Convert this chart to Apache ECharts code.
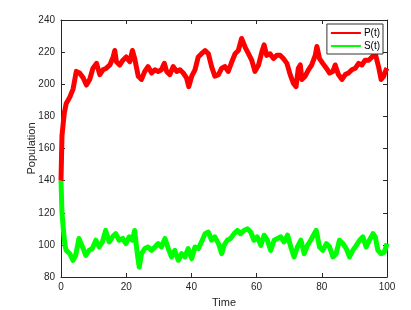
<!DOCTYPE html>
<html><head><meta charset="utf-8">
<script src="https://cdn.jsdelivr.net/npm/echarts@6/dist/echarts.min.js"></script>
<style>html,body{margin:0;padding:0;background:#fff}#c{width:411px;height:310px}</style>
</head><body><div id="c"></div>
<script>
const timeP = [0,0.3,0.7,1.0,1.6,2.7,3.7,4.7,5.7,6.8,7.8,8.8,9.8,10.9,11.4,11.9,12.9,13.9,15,16,16.5,17,18,19,20,21.1,21.9,22.6,23.7,24.7,25.7,26.7,27.8,28.8,29.8,30.8,31.7,32.4,33.4,34.4,35.5,36.5,37.5,38.5,39.2,40.1,41.1,42.1,43.1,44.2,45.2,46.2,47.2,48.3,49.3,50.3,51.3,52.4,53.4,54.4,55.4,56.5,57.5,58.5,59.5,60.6,61.6,62.3,63.1,64.1,65.2,66.2,67.2,68.2,69.3,70.3,71.3,72.1,72.8,73.4,73.9,74.9,75.9,76.9,78,78.5,79.3,80.3,81.4,82.4,83.4,84.1,85.1,86.2,87.2,88.2,89.2,90.3,91.3,92.3,93.3,94.4,95.4,96.4,96.9,97.4,98.2,99,99.5,100];
const valP = [140,168,176,182,188,192,197,208,207,204,199.5,203,210,213,213,206,209,210,212,217,221,214,212,215,217,214,221,216,205,203,208,211,207,209,208,209,213,208,206,211,208,209,207,204,198.5,205,209,217,219,221,219,211,205,206,210,211,208,214,219,221,228.5,223,219,215,208,212,220,224.5,218,219,216,218,218,216,213,206,200.5,198.5,210,212,203,205,209,212,218,223.5,216,213,210,207,208,212,206,203,206,207,209,210,213,212,215,215,217,219,220,211,203,205,208,210];
const timeS = [0,0.3,0.8,1.2,1.6,2.7,3.7,4.5,5.5,6.6,7.6,8.6,9.6,10.7,11.7,12.7,13.7,14.8,15.8,16.8,17.8,18.9,19.9,20.9,21.9,22.6,23.4,24,24.7,25.7,26.7,27.8,28.8,29.8,30.8,31.9,32.9,33.9,34.9,36,37,38,39,40.1,41.1,42.1,43.1,44.2,45.2,46.2,47.2,48.3,49.3,50,51,52,53.1,54.1,55.1,56.1,57.2,58.2,59.2,60.2,61.3,62.3,63.3,64.3,65.4,66.4,67.4,68.4,69.5,70.5,71.5,72.5,73.6,74.6,75.6,76.6,77.7,78.3,79.3,80.3,81.4,82.4,83.4,84.4,85.4,86.5,87.5,88.5,89.5,90.6,91.6,92.6,93.6,94.6,95.7,96.4,97.2,98.2,99.2,100];
const valS = [140,120,108,100,96.6,94.5,90.4,93.5,104,98.7,93.5,96.6,97.7,102.9,98.7,101.8,109,101.8,105,107,102.9,104,100.8,105,102.9,109,94.5,86.2,94.5,97.7,98.7,96.6,98.7,100.8,98.7,104,97.7,92.5,96.6,90.4,94.5,92.5,97.7,91.4,98.7,97.7,101.8,107,108,102.9,105,100.8,94.5,99.7,102.9,104,107,109,107,109,110,108,102.9,105,99.7,106,102.9,96.6,102.9,104,105,101.8,106,98.7,92.5,98.7,102.9,94.5,99.7,102.9,107,109,98.7,96.6,100.8,98.7,92.5,94.5,102.9,100.8,97.7,92.5,96.6,99.7,102.9,105,98.7,102.9,107,105,96.6,94.5,95.6,100.8];
const seriesNames = ['P(t)','S(t)'];
const xTicks = {min:0,max:100,interval:20};
const yTicks = {min:80,max:240,interval:20};

const pairs = (t,v)=>t.map((x,i)=>[x,v[i]]);
const tickColor = '#262626';
const axisBase = {
  axisLine:{show:true,onZero:false,lineStyle:{color:tickColor,width:1}},
  axisTick:{show:true,inside:true,length:4,lineStyle:{color:tickColor}},
  splitLine:{show:false}
};
const chart = echarts.init(document.getElementById('c'));
chart.setOption({
  animation:false,
  backgroundColor:'#fff',
  grid:{left:61,right:24,top:20,bottom:33,containLabel:false,outerBoundsMode:'none'},
  legend:{
    data:seriesNames, orient:'vertical', right:28, top:24,
    backgroundColor:'#fff', borderColor:'#333', borderWidth:1, borderRadius:0,
    padding:[4,3,3,4], itemGap:3, itemWidth:30, itemHeight:2,
    icon:'rect',
    textStyle:{fontFamily:'Liberation Sans',fontSize:10,color:'#000',padding:[0,0,0,-2]}
  },
  xAxis:[
    Object.assign({type:'value',position:'bottom',...xTicks,
      name:'Time',nameLocation:'middle',nameGap:20,nameMoveOverlap:false,
      nameTextStyle:{fontFamily:'Liberation Sans',fontSize:11,color:tickColor},
      axisLabel:{fontFamily:'Liberation Sans',fontSize:10,color:tickColor,margin:5}},axisBase),
    Object.assign({type:'value',position:'top',...xTicks,axisLabel:{show:false}},axisBase)
  ],
  yAxis:[
    Object.assign({type:'value',position:'left',...yTicks,
      name:'Population',nameLocation:'middle',nameGap:24,nameMoveOverlap:false,
      nameTextStyle:{fontFamily:'Liberation Sans',fontSize:11,color:tickColor},
      axisLabel:{fontFamily:'Liberation Sans',fontSize:10,color:tickColor,margin:6}},axisBase),
    Object.assign({type:'value',position:'right',...yTicks,axisLabel:{show:false}},axisBase)
  ],
  series:[
    {name:seriesNames[0],type:'line',data:pairs(timeP,valP),showSymbol:false,
     lineStyle:{color:'#ff0000',width:5,join:'round'},itemStyle:{color:'#ff0000'},z:3},
    {name:seriesNames[1],type:'line',data:pairs(timeS,valS),showSymbol:false,
     lineStyle:{color:'#00ff00',width:5,join:'round'},itemStyle:{color:'#00ff00'},z:2}
  ]
});
</script></body></html>
